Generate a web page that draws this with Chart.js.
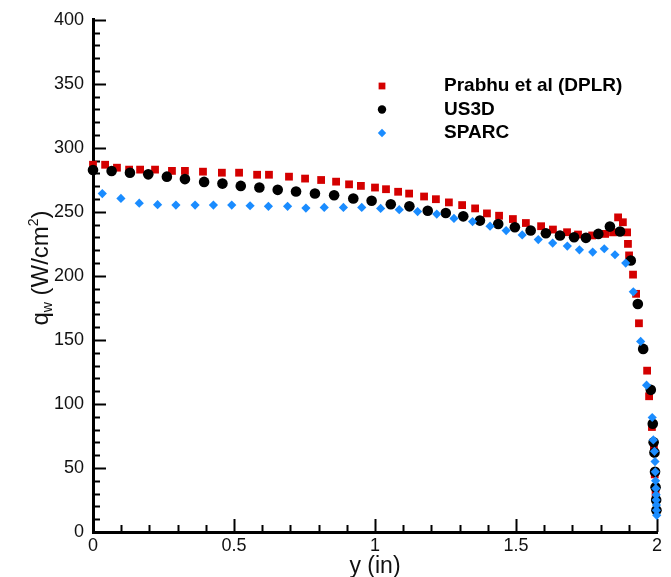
<!DOCTYPE html>
<html>
<head>
<meta charset="utf-8">
<script src="https://cdn.jsdelivr.net/npm/chart.js@4.4.0/dist/chart.umd.min.js"></script>
<style>
  html, body { margin: 0; padding: 0; background: #fff; }
  #wrap { width: 671px; height: 577px; }
</style>
</head>
<body>
<div id="wrap"><canvas id="heatFluxChart" width="671" height="577"></canvas></div>
<script>
// Wall heat flux along y
const prabhuX = [0.000, 0.043, 0.085, 0.128, 0.167, 0.220, 0.280, 0.326, 0.390, 0.457, 0.518, 0.582, 0.624,
  0.695, 0.752, 0.809, 0.862, 0.908, 0.950, 1.000, 1.039, 1.082, 1.121, 1.174, 1.216, 1.262, 1.309, 1.355,
  1.397, 1.440, 1.489, 1.535, 1.589, 1.631, 1.681, 1.720, 1.770, 1.816, 1.844, 1.862, 1.879, 1.894, 1.897,
  1.901, 1.915, 1.926, 1.936, 1.965, 1.972, 1.982, 1.989, 1.992, 1.995];
const prabhuQ = [286.8, 286.8, 284.5, 283, 283, 283, 282, 282, 281.4, 280.6, 280.6, 279, 279,
  277.5, 276, 274.9, 273.6, 271.5, 270.3, 269, 267.7, 265.7, 264.3, 262, 259.9, 257.4, 255.3, 252.7,
  248.8, 247, 244.4, 241.3, 238.8, 236.2, 234.1, 232.3, 231.6, 232.8, 234, 245.7, 241.9, 234, 225,
  216, 201, 186, 163, 126, 106, 82, 65, 45, 30];

const us3dX = [0.000, 0.066, 0.131, 0.196, 0.262, 0.326, 0.394, 0.459, 0.524, 0.590, 0.655, 0.720, 0.787,
  0.855, 0.923, 0.988, 1.056, 1.122, 1.187, 1.251, 1.313, 1.372, 1.437, 1.496, 1.552, 1.606, 1.656, 1.706,
  1.748, 1.792, 1.833, 1.869, 1.907, 1.932, 1.951, 1.978, 1.985, 1.988, 1.991, 1.993, 1.995, 1.997, 1.998];
const us3dQ = [282.7, 281.9, 280.6, 279.3, 277.5, 275.6, 273.4, 272.1, 270.3, 269, 267.2, 265.9, 264.3,
  263, 260.5, 258.7, 256, 254.3, 250.9, 249.1, 246.5, 243.2, 240.5, 238, 235.4, 233.3, 231.6, 230.2,
  229.7, 232.8, 238.5, 234.7, 212, 178, 143, 111, 84.5, 70, 62, 47, 35, 25, 17];

const sparcX = [0.033, 0.099, 0.164, 0.229, 0.294, 0.362, 0.427, 0.492, 0.557, 0.622, 0.690, 0.755, 0.820,
  0.888, 0.953, 1.020, 1.086, 1.151, 1.219, 1.280, 1.346, 1.408, 1.465, 1.522, 1.579, 1.630, 1.682, 1.725,
  1.772, 1.813, 1.851, 1.889, 1.916, 1.942, 1.963, 1.983, 1.987, 1.991, 1.993, 1.994, 1.995, 1.996, 1.997,
  1.997, 1.998, 1.998, 1.999];
const sparcQ = [264.3, 260.5, 256.8, 255.6, 255.3, 255.3, 255.3, 255.3, 254.8, 254.3, 254.3, 253, 253.5,
  253.5, 253.5, 252.7, 251.7, 250.2, 248.3, 244.9, 242.4, 238.8, 235.4, 232, 228.4, 225.6, 223.3, 220.4,
  218.6, 221.2, 216.5, 210, 187.6, 148.8, 114.7, 89.4, 71.9, 63, 55, 47, 40, 34, 29,
  25, 21, 17, 13];

const xTicks = [0, 0.5, 1, 1.5, 2];
const yTicks = [0, 50, 100, 150, 200, 250, 300, 350, 400];

const FONT = '"Liberation Sans", Arial, Helvetica, sans-serif';

function toPoints(xs, ys) {
  return xs.map((x, i) => ({ x: x, y: ys[i] }));
}

// inward major/minor tick marks, placed with the chart's own scales
const innerTicks = {
  id: 'innerTicks',
  beforeDatasetsDraw(chart) {
    const { ctx, chartArea, scales } = chart;
    ctx.save();
    ctx.strokeStyle = '#000';
    ctx.lineWidth = 2;
    for (let v = 0; v <= 400; v += 10) {
      const y = Math.round(scales.y.getPixelForValue(v)) + 0.5;
      const len = v % 50 === 0 ? 13 : 7;
      ctx.beginPath();
      ctx.moveTo(chartArea.left, y);
      ctx.lineTo(chartArea.left + len, y);
      ctx.stroke();
    }
    for (let i = 0; i <= 20; i++) {
      const x = Math.round(scales.x.getPixelForValue(i / 10)) + 0.5;
      const len = i % 5 === 0 ? 13 : 7;
      ctx.beginPath();
      ctx.moveTo(x, chartArea.bottom);
      ctx.lineTo(x, chartArea.bottom - len);
      ctx.stroke();
    }
    ctx.restore();
  }
};

function drawMarker(ctx, style, x, y, r, color) {
  ctx.fillStyle = color;
  ctx.beginPath();
  if (style === 'rect') {
    const s = r * Math.SQRT1_2;
    ctx.rect(x - s, y - s, 2 * s, 2 * s);
  } else if (style === 'rectRot') {
    ctx.moveTo(x, y - r);
    ctx.lineTo(x + r, y);
    ctx.lineTo(x, y + r);
    ctx.lineTo(x - r, y);
    ctx.closePath();
  } else {
    ctx.arc(x, y, r, 0, Math.PI * 2);
  }
  ctx.fill();
}

// legend inside the plot, upper right
const insideLegend = {
  id: 'insideLegend',
  afterDraw(chart) {
    const ctx = chart.ctx;
    ctx.save();
    ctx.font = 'bold 19px ' + FONT;
    ctx.textAlign = 'left';
    ctx.textBaseline = 'middle';
    chart.data.datasets.forEach((ds, i) => {
      const y = 86 + i * 23.5;
      drawMarker(ctx, ds.pointStyle, 382, y, ds.legendRadius, ds.backgroundColor);
      ctx.fillStyle = '#000';
      ctx.fillText(ds.label, 444, y);
    });
    ctx.restore();
  }
};

// axis titles (y title needs a subscript and a superscript)
const axisTitles = {
  id: 'axisTitles',
  afterDraw(chart) {
    const { ctx, chartArea } = chart;
    ctx.save();
    ctx.fillStyle = '#111';
    ctx.textBaseline = 'middle';
    ctx.textAlign = 'center';
    ctx.font = '23px ' + FONT;
    ctx.fillText('y (in)', (chartArea.left + chartArea.right) / 2, 567);

    const parts = [
      { t: 'q', size: 24, dy: 0 },
      { t: 'w', size: 14, dy: 4 },
      { t: ' (W/cm', size: 24, dy: 0 },
      { t: '2', size: 14, dy: -10 },
      { t: ')', size: 24, dy: 0 }
    ];
    let total = 0;
    parts.forEach(p => {
      ctx.font = p.size + 'px ' + FONT;
      p.w = ctx.measureText(p.t).width;
      total += p.w;
    });
    ctx.translate(48, 268);
    ctx.rotate(-Math.PI / 2);
    ctx.textAlign = 'left';
    ctx.textBaseline = 'alphabetic';
    let x = -total / 2;
    parts.forEach(p => {
      ctx.font = p.size + 'px ' + FONT;
      ctx.fillText(p.t, x, p.dy);
      x += p.w;
    });
    ctx.restore();
  }
};

function initializeHeatFluxChart() {
  const ctx = document.getElementById('heatFluxChart');
  if (!ctx) return;

  new Chart(ctx, {
    type: 'scatter',
    data: {
      datasets: [
        {
          label: 'Prabhu et al (DPLR)',
          data: toPoints(prabhuX, prabhuQ),
          pointStyle: 'rect',
          pointRadius: 5.5,
          legendRadius: 4.8,
          backgroundColor: '#d40000',
          borderWidth: 0,
          clip: false,
          order: 3
        },
        {
          label: 'US3D',
          data: toPoints(us3dX, us3dQ),
          pointStyle: 'circle',
          pointRadius: 5.3,
          legendRadius: 4.2,
          backgroundColor: '#000000',
          borderWidth: 0,
          clip: false,
          order: 2
        },
        {
          label: 'SPARC',
          data: toPoints(sparcX, sparcQ),
          pointStyle: 'rectRot',
          pointRadius: 4.6,
          legendRadius: 4.2,
          backgroundColor: '#1a8cff',
          borderWidth: 0,
          clip: false,
          order: 1
        }
      ]
    },
    options: {
      responsive: false,
      animation: false,
      events: [],
      devicePixelRatio: 1,
      layout: { padding: { left: 0, right: 14, top: 17, bottom: 0 } },
      plugins: {
        legend: { display: false },
        tooltip: { enabled: false }
      },
      scales: {
        x: {
          type: 'linear',
          position: 'bottom',
          min: 0,
          max: 2,
          afterBuildTicks: scale => { scale.ticks = xTicks.map(v => ({ value: v })); },
          afterFit: scale => { scale.height = 45; },
          grid: { display: false, drawTicks: false },
          border: { display: true, color: '#000', width: 3 },
          ticks: {
            padding: 3,
            color: '#111',
            font: { family: FONT, size: 18 },
            maxRotation: 0,
            autoSkip: false,
            callback: value => String(+value.toFixed(2))
          }
        },
        y: {
          type: 'linear',
          min: 0,
          max: 400,
          afterBuildTicks: scale => { scale.ticks = yTicks.map(v => ({ value: v })); },
          afterFit: scale => { scale.width = 93; },
          grid: { display: false, drawTicks: false },
          border: { display: true, color: '#000', width: 3 },
          ticks: {
            padding: 9,
            color: '#111',
            font: { family: FONT, size: 18 },
            autoSkip: false,
            callback: value => String(value)
          }
        }
      }
    },
    plugins: [innerTicks, insideLegend, axisTitles]
  });
}

document.addEventListener('DOMContentLoaded', () => {
  initializeHeatFluxChart();
});
</script>
</body>
</html>
